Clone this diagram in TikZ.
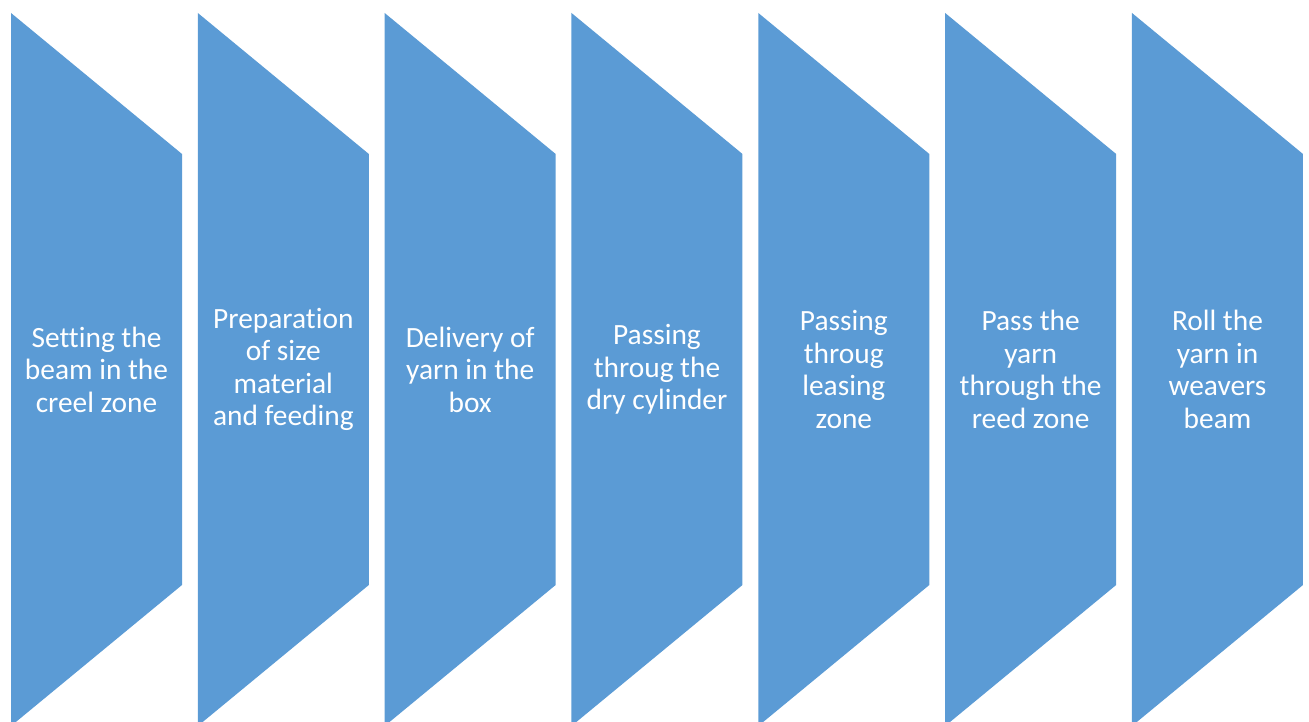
\documentclass[tikz,border=0pt]{standalone}
\usepackage{fontspec}
\setmainfont{Carlito}[Ligatures=NoCommon]
\definecolor{stepblue}{HTML}{5B9BD5}
\begin{document}
\begin{tikzpicture}[x=1pt,y=1pt,
  chevron/.style={fill=stepblue,draw=none},
  steptext/.style={text=white,align=center,inner sep=0pt,
    font=\fontsize{29.4}{32.5}\selectfont}]
\useasboundingbox (0,0) rectangle (1309,722);
\clip (0,0) rectangle (1309,722);
\foreach \i/\txt in {
  0/{Setting the\\beam in the\\creel zone},
  1/{Preparation\\of size\\material\\and feeding},
  2/{Delivery of\\yarn in the\\box},
  3/{Passing\\throug the\\dry cylinder},
  4/{Passing\\throug\\leasing\\zone},
  5/{Pass the\\yarn\\through the\\reed zone},
  6/{Roll the\\yarn in\\weavers\\beam}}{
  \pgfmathsetmacro{\L}{11+186.83*\i}
  \fill[chevron] (\L,709) -- (\L+171,568) -- (\L+171,137) -- (\L,-4) -- cycle;
  \node[steptext] (step\i) at (\L+85.5,352.5) {\txt};
}
\end{tikzpicture}
\end{document}
